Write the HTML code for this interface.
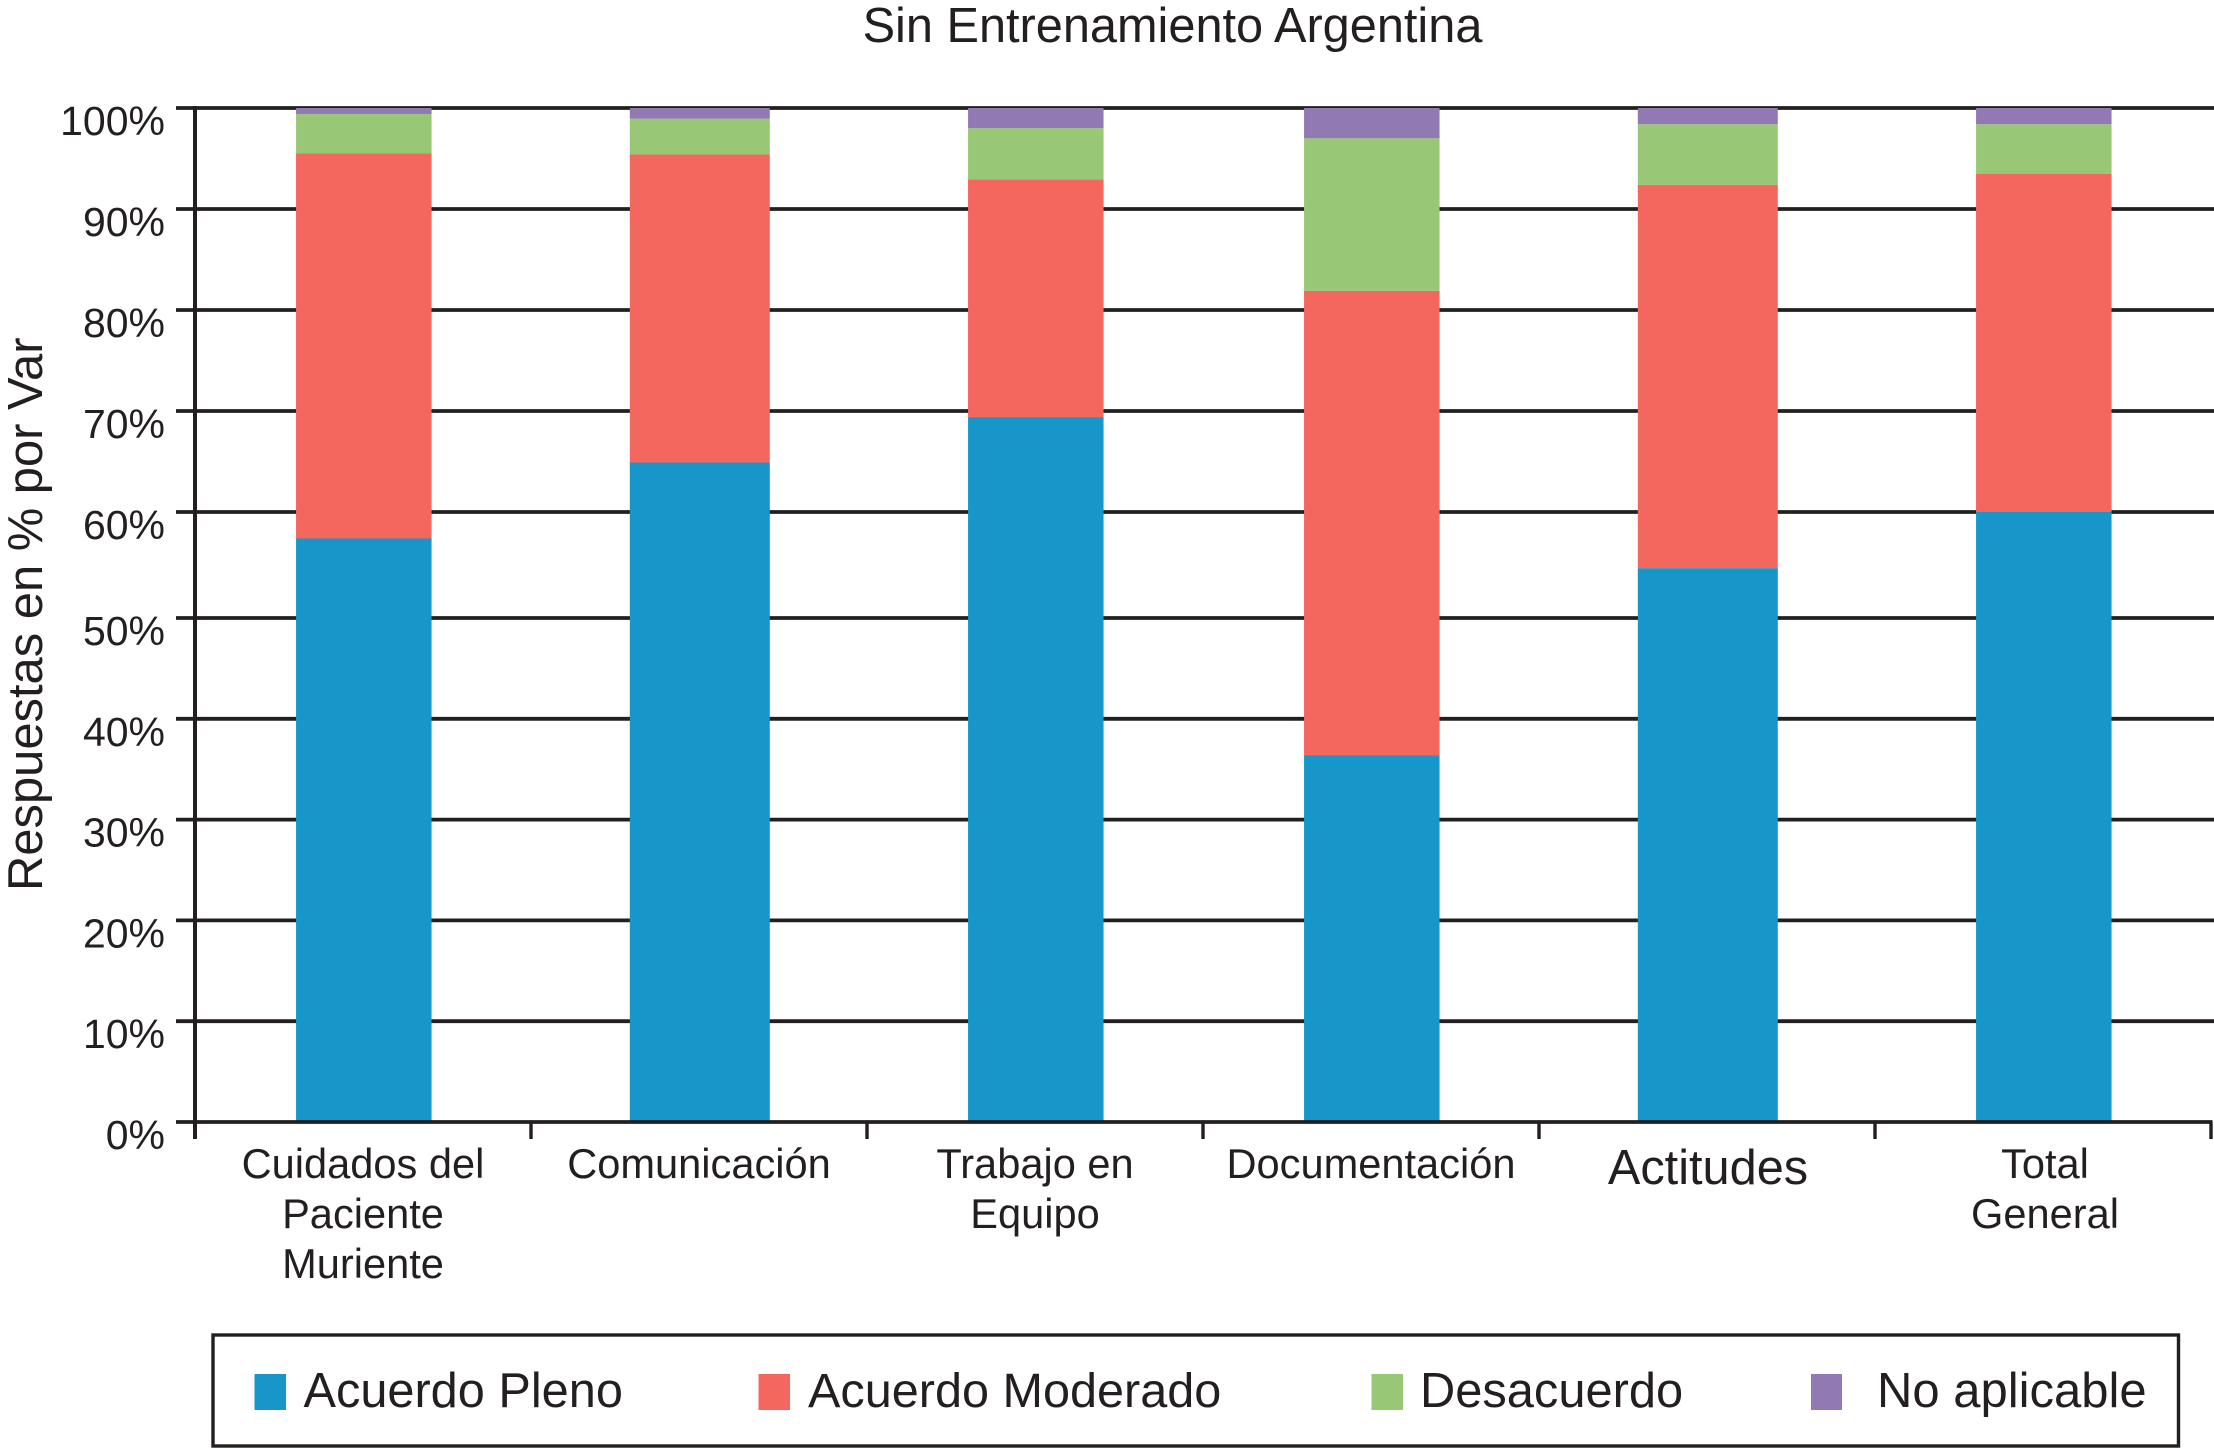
<!DOCTYPE html>
<html lang="es">
<head>
<meta charset="utf-8">
<title>Sin Entrenamiento Argentina</title>
<style>
html,body{margin:0;padding:0;background:#fff;}
svg{display:block;}
text{font-family:"Liberation Sans",Arial,sans-serif;fill:#231f20;}
</style>
</head>
<body>
<svg id="chart" xmlns="http://www.w3.org/2000/svg" width="2214" height="1448" viewBox="0 0 2214 1448">
  <rect x="0" y="0" width="2214" height="1448" fill="#ffffff"/>
  <text x="1172.5" y="42" font-size="48.7" text-anchor="middle">Sin Entrenamiento Argentina</text>
  <text transform="translate(42,891) rotate(-90)" font-size="48.9">Respuestas en % por Var</text>
  <g id="grid"></g>
  <g id="bars"></g>
  <g id="axes"></g>
  <g id="y-labels"></g>
  <g id="x-labels"></g>
  <g>
    <rect x="213" y="1335" width="1965.5" height="111" fill="none" stroke="#231f20" stroke-width="3.4"/>
    <g>
      <rect x="254.5" y="1374" width="31.5" height="36" fill="#1797c9"/>
      <text x="303.5" y="1407" font-size="48.7">Acuerdo Pleno</text>
    </g>
    <g>
      <rect x="758.5" y="1374" width="31.5" height="36" fill="#f4675f"/>
      <text x="808" y="1407" font-size="48.6">Acuerdo Moderado</text>
    </g>
    <g>
      <rect x="1371.5" y="1374" width="31.5" height="36" fill="#98c775"/>
      <text x="1420" y="1407" font-size="48.8">Desacuerdo</text>
    </g>
    <g>
      <rect x="1811" y="1374" width="31" height="36" fill="#9179b4"/>
      <text x="1877" y="1407" font-size="49">No aplicable</text>
    </g>
  </g>
</svg>
<script>
const categories = [
  ["Cuidados del", "Paciente", "Muriente"],
  ["Comunicación"],
  ["Trabajo en", "Equipo"],
  ["Documentación"],
  ["Actitudes"],
  ["Total", "General"]
];
const acuerdoPleno = [57.5, 64.9, 69.4, 36.4, 54.7, 60.0];
const acuerdoModerado = [38.0, 30.5, 23.55, 45.5, 37.7, 33.5];
const desacuerdo = [3.9, 3.55, 5.05, 15.1, 6.0, 4.9];
const noAplicable = [0.6, 1.05, 2.0, 3.0, 1.6, 1.6];
const yTicks = [0, 10, 20, 30, 40, 50, 60, 70, 80, 90, 100];

const NS = "http://www.w3.org/2000/svg";
const INK = "#231f20";

// The printed axis has a slightly wider 50-60% band, reproduced by a piecewise scale.
function yScale(v) {
  if (v <= 50) return 1122 - (v / 50) * (1122 - 618);
  if (v <= 60) return 618 - ((v - 50) / 10) * (618 - 512);
  return 512 - ((v - 60) / 40) * (512 - 108);
}
function xBandStart(i) { return 195 + i * 336; }
function xCenter(i) { return xBandStart(i) + 168; }
function barWidth(i) { return i % 3 === 1 ? 140 : 135.5; }

function make(tag, attrs, parent) {
  const el = document.createElementNS(NS, tag);
  for (const k in attrs) el.setAttribute(k, attrs[k]);
  parent.appendChild(el);
  return el;
}

const grid = document.getElementById("grid");
const bars = document.getElementById("bars");
const axes = document.getElementById("axes");
const yLabels = document.getElementById("y-labels");
const xLabels = document.getElementById("x-labels");

yTicks.forEach(function (t) {
  if (t === 0) return;
  const line = make("line", {x1: 176, x2: 2214, y1: yScale(t), y2: yScale(t), stroke: INK, "stroke-width": 3.8}, grid);
  
  
});

const seriesList = [
  {key: "acuerdo-pleno", values: acuerdoPleno, color: "#1797c9"},
  {key: "acuerdo-moderado", values: acuerdoModerado, color: "#f4675f"},
  {key: "desacuerdo", values: desacuerdo, color: "#98c775"},
  {key: "no-aplicable", values: noAplicable, color: "#9179b4"}
];

categories.forEach(function (lines, i) {
  let cumulative = 0;
  seriesList.forEach(function (s) {
    const next = cumulative + s.values[i];
    const top = yScale(next);
    const bottom = yScale(cumulative);
    const w = barWidth(i);
    const rect = make("rect", {x: xCenter(i) + 0.8 - w / 2, y: top, width: w, height: bottom - top, fill: s.color}, bars);
    
    
    cumulative = next;
  });
});

const yAxisLine = make("line", {x1: 195, x2: 195, y1: 106, y2: 1139, stroke: INK, "stroke-width": 4}, axes);



const xAxisLine = make("line", {x1: 176, x2: 2212.5, y1: yScale(0), y2: yScale(0), stroke: INK, "stroke-width": 3.8}, axes);



for (let i = 1; i <= categories.length; i++) {
  const tick = make("line", {x1: xBandStart(i), x2: xBandStart(i), y1: yScale(0), y2: 1139, stroke: INK, "stroke-width": 3.4}, axes);
  
  
}

yTicks.forEach(function (t) {
  const label = make("text", {x: 165, y: yScale(t) + 27, "font-size": 41, "text-anchor": "end"}, yLabels);
  label.textContent = t + "%";
  
  
});

categories.forEach(function (lines, i) {
  lines.forEach(function (line, j) {
    const big = lines[0] === "Actitudes";
    const label = make("text", {
      x: xCenter(i) + (i === 5 ? 2 : 0) + (big ? 1 : 0),
      y: (big ? 1184 : 1178) + j * 50,
      "font-size": big ? 48.7 : 41.6,
      "text-anchor": "middle"
    }, xLabels);
    label.textContent = line;
    
    
  });
});
</script>
</body>
</html>
